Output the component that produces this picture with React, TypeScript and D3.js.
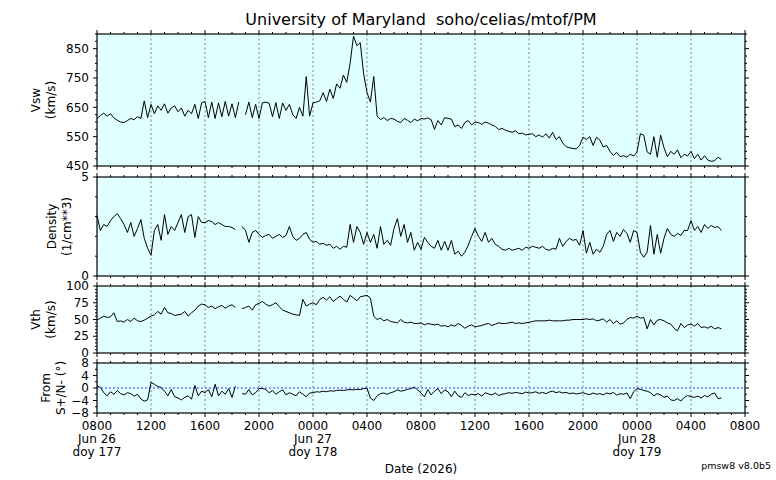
import React from "react";
import * as d3 from "d3";

// 15 minute samples starting 0800 UT Jun 26 2026
const vsw = [
  612, 622, 630, 620, 628, 614, 606, 600,
  598, 605, 612, 608, 618, 612, 672, 615,
  660, 628, 655, 640, 662, 630, 648, 655,
  635, 648, 620, 640, 628, 660, 612, 665,
  670, 615, 668, 612, 665, 618, 670, 620,
  662, 615, 668, NaN, 625, 668, 615, 660,
  612, 665, 668, 664, 618, 666, 612, 665,
  640, 660, 625, 612, 650, 620, 755, 620,
  665, 668, 672, 700, 670, 712, 680, 730,
  715, 760, 735, 800, 893, 860, 870, 765,
  700, 668, 755, 620, 608, 615, 605, 612,
  610, 602, 598, 612, 606, 598, 610, 604,
  612, 610, 614, 608, 575, 605, 590, 615,
  612, 610, 584, 590, 578, 598, 605, 590,
  600, 598, 592, 600, 596, 590, 585, 574,
  578, 572, 568, 565, 570, 560, 562, 556,
  558, 560, 550, 556, 548, 560, 545, 565,
  540, 550, 528, 516, 512, 510, 508, 520,
  548, 540, 550, 520, 548, 538, 515, 520,
  500, 486, 496, 482, 485, 480, 490, 484,
  498, 560, 555, 498, 490, 550, 480, 555,
  512, 482, 500, 490, 505, 478, 490, 484,
  500, 475, 490, 470, 485, 470, 466, 468,
  480, 472,
];

const density = [
  3.05, 2.3, 2.6, 2.5, 2.8, 3.0, 3.15, 2.9,
  2.6, 2.2, 2.7, 2.0, 2.4, 2.85, 1.9, 1.4,
  1.05, 2.3, 2.6, 1.8, 3.1, 2.1, 2.5, 2.3,
  2.7, 3.1, 2.2, 3.0, 3.1, 1.95, 3.0, 2.7,
  2.7, 2.8, 2.75, 2.6, 2.7, 2.6, 2.5, 2.5,
  2.45, 2.35, NaN, 2.5, 2.3, 1.7, 2.2, 2.3,
  2.1, 1.95, 2.05, 2.1, 1.9, 2.0, 2.1, 1.95,
  2.05, 2.5, 2.0, 1.8, 1.9, 2.1, 2.2, 1.85,
  1.7, 1.75, 1.6, 1.65, 1.55, 1.6, 1.4, 1.5,
  1.35, 1.5, 1.45, 2.6, 1.7, 2.5, 2.2, 1.6,
  2.2, 1.7, 2.1, 1.4, 2.5, 1.6, 1.8, 1.55,
  2.4, 2.9, 2.0, 2.6, 1.7, 2.2, 1.3, 1.7,
  1.35, 1.95, 1.7, 1.5, 1.4, 1.8, 1.3, 1.75,
  1.3, 1.8, 1.1, 1.25, 1.0, 1.2, 1.55, 2.0,
  2.4, 2.0, 1.75, 2.2, 1.7, 1.9, 1.6, 1.5,
  1.35, 1.3, 1.4, 1.3, 1.35, 1.4, 1.3, 1.45,
  1.4, 1.5, 1.45, 1.4, 1.5, 1.35, 1.3, 1.4,
  1.35, 1.9, 1.5, 1.75, 1.9, 1.8, 1.85, 1.55,
  2.3, 1.15, 1.7, 1.1, 1.35, 1.2, 1.5, 2.1,
  2.3, 1.75, 2.2, 2.0, 2.35, 2.15, 1.7, 2.3,
  2.2, 1.2, 0.95, 1.2, 2.55, 1.1, 2.1, 1.15,
  1.9, 2.4, 2.1, 2.0, 2.15, 2.05, 2.3, 2.3,
  2.8, 2.3, 2.5, 2.2, 2.6, 2.4, 2.55, 2.45,
  2.5, 2.3,
];

const vth = [
  49, 52, 55, 53, 54, 60, 47, 48,
  46, 50, 47, 52, 48, 47, 49, 52,
  55, 57, 62, 58, 68, 60, 59, 56,
  57, 58, 62, 55, 60, 64, 70, 73,
  72, 68, 70, 66, 69, 71, 67, 70,
  72, 68, NaN, 66, 68, 70, 64, 72,
  74, 77, 73, 70, 72, 75, 69, 64,
  62, 60, 58, 57, 56, 80, 70, 73,
  75, 72, 80, 83, 79, 84, 77, 81,
  85, 80, 76, 86, 82, 78, 84, 85,
  86, 82, 55, 50, 52, 48, 50, 47,
  46, 45, 50, 46, 45, 46, 44, 44,
  45, 42, 44, 43, 42, 43, 40, 41,
  39, 42, 40, 44, 41, 37, 40, 42,
  39, 40, 41, 43, 44, 41, 43, 45,
  44, 44, 45, 46, 44, 45, 44, 45,
  46, 47, 48, 48, 48, 48, 49, 48,
  48, 48, 48, 49, 49, 50, 50, 50,
  50, 51, 50, 51, 48, 49, 51, 46,
  50, 44, 48, 43, 45, 50, 53, 52,
  55, 52, 53, 36, 50, 42, 49, 50,
  48, 45, 43, 37, 33, 44, 38, 42,
  43, 40, 44, 38, 39, 37, 40, 36,
  38, 36,
];

const fromSN = [
  0.8, 0.2, -1.5, -2.5, -1.2, -2.0, -0.8, -1.8,
  -2.2, -1.5, -1.8, -2.6, -2.0, -3.5, -4.2, -3.8,
  1.8, 1.2, 0.5, 0.2, -1.0, -2.5, -0.5, -2.8,
  -3.2, -3.8, -3.0, -2.5, -3.6, 0.8, -2.5, -1.0,
  -1.5, -0.5, -2.8, 1.2, -2.5, -1.0, -2.0, -0.2,
  -3.0, 0.6, NaN, -1.8, -2.0, -0.5, -2.2, -1.5,
  -0.2, -0.1, -0.5, -1.5, -0.8, -2.0, -1.2, -0.6,
  -2.2, -1.5, -2.0, -2.5, -1.2, -2.0, -2.8, -1.6,
  -1.5, -1.2, -1.3, -1.0, -1.2, -0.9, -1.0, -0.8,
  -0.7, -0.8, -0.6, -0.5, -0.6, -0.4, -0.5, -0.2,
  0.0, -3.2, -4.0, -2.5, -1.8, -1.6, -2.0, -1.5,
  -1.2, -0.6, -1.0, -0.8, -0.4, -0.2, 0.3, -0.6,
  -1.6, -2.8, -0.5, -2.2, -1.0, -0.2, -1.8, -0.6,
  -1.2, -2.8, -1.0, -2.5, -3.0, -1.5, -2.4, -2.0,
  -2.2, -1.8, -2.6, -1.5, -1.9, -2.2, -1.6, -2.4,
  -2.0, -1.8, -1.5, -1.7, -1.4, -1.6, -1.8, -1.3,
  -1.6, -1.5, -1.2, -1.7, -1.4, -1.8, -1.3, -1.0,
  -1.5, -1.2, -1.6, -1.4, -1.8, -1.6, -1.9, -1.7,
  -1.5, -1.9, -2.1, -1.6, -2.0, -1.8, -2.2, -1.6,
  -1.9, -1.4, -2.3, -1.8, -2.0, -1.6, -3.4, -1.2,
  -0.2, -0.4, -0.8, -1.0, -1.5, -2.5, -1.8, -2.2,
  -3.0, -2.6, -3.8, -4.0, -3.4, -4.2, -3.0, -2.4,
  -2.8, -3.0, -2.6, -3.2, -2.4, -2.8, -2.0, -1.6,
  -3.4, -3.2,
];

const START = Date.UTC(2026, 5, 26, 8);
const END = Date.UTC(2026, 5, 28, 8);
const STEP_MS = 15 * 60 * 1000;

const dayMarks = [
  { t: Date.UTC(2026, 5, 26, 8), day: "Jun 26", doy: "doy 177" },
  { t: Date.UTC(2026, 5, 27, 0), day: "Jun 27", doy: "doy 178" },
  { t: Date.UTC(2026, 5, 28, 0), day: "Jun 28", doy: "doy 179" },
];

const W = 776;
const H = 480;
const LEFT = 97;
const RIGHT = 745;
const FONT = "DejaVu Sans, Verdana, sans-serif";

const panels = [
  { title: ["Vsw", "(km/s)"], data: vsw, domain: [450, 900], top: 34, bottom: 166,
    labels: [450, 550, 650, 750, 850], minor: 25, labelX: [36, 51], zeroLine: false },
  { title: ["Density", "(1/cm**3)"], data: density, domain: [0, 5], top: 177, bottom: 276,
    labels: [0, 5], minor: 1, labelX: [52, 67], zeroLine: false },
  { title: ["Vth", "(km/s)"], data: vth, domain: [0, 100], top: 286, bottom: 353,
    labels: [0, 25, 50, 75, 100], minor: 5, labelX: [36, 51], zeroLine: false },
  { title: ["From", "S+/N- (\u00b0)"], data: fromSN, domain: [-8, 8], top: 363, bottom: 413,
    labels: [-8, -4, 0, 4, 8], minor: 2, labelX: [46, 61], zeroLine: true },
];

const x = d3.scaleUtc().domain([START, END]).range([LEFT, RIGHT]);
const majorTicks = x.ticks(d3.utcHour.every(4));
const minorTicks = x.ticks(d3.utcHour.every(1));
const fmt = d3.utcFormat("%H%M");

function Panel({ p }) {
  const y = d3.scaleLinear().domain(p.domain).range([p.bottom, p.top]);
  const pts = p.data.map((v, i) => ({ t: START + i * STEP_MS, v }));
  const line = d3.line()
    .defined((d) => !isNaN(d.v))
    .x((d) => x(d.t))
    .y((d) => y(d.v));
  const minorY = d3.range(p.domain[0], p.domain[1] + 0.001, p.minor);
  const num = (v) => (v < 0 ? "\u2212" + Math.abs(v) : String(v));
  const mid = (p.top + p.bottom) / 2;
  return (
    <g>
      <rect x={LEFT} y={p.top} width={RIGHT - LEFT} height={p.bottom - p.top} fill="#e0ffff" />
      {majorTicks.slice(1, -1).map((t, i) => (
        <line key={i} x1={x(t)} x2={x(t)} y1={p.top} y2={p.bottom}
          stroke="#808080" strokeWidth={1} strokeDasharray="2,2.5" />
      ))}
      {p.zeroLine && (
        <line x1={LEFT} x2={RIGHT} y1={y(0)} y2={y(0)} stroke="#3a3aff" strokeWidth={1} strokeDasharray="2,2" />
      )}
      <path d={line(pts)} fill="none" stroke="#000" strokeWidth={1} strokeLinejoin="round" />
      <rect x={LEFT} y={p.top} width={RIGHT - LEFT} height={p.bottom - p.top} fill="none" stroke="#000" strokeWidth={1.2} />
      {minorTicks.map((t, i) => {
        const len = majorTicks.some((m) => +m === +t) ? 4 : 2;
        return (
          <g key={i} stroke="#000" strokeWidth={1}>
            <line x1={x(t)} x2={x(t)} y1={p.top} y2={p.top - len} />
            <line x1={x(t)} x2={x(t)} y1={p.bottom} y2={p.bottom + len} />
          </g>
        );
      })}
      {minorY.map((v, i) => {
        const len = p.labels.includes(v) ? 4 : 2;
        return (
          <g key={i} stroke="#000" strokeWidth={1}>
            <line x1={LEFT} x2={LEFT - len} y1={y(v)} y2={y(v)} />
            <line x1={RIGHT} x2={RIGHT + len} y1={y(v)} y2={y(v)} />
          </g>
        );
      })}
      {p.labels.map((v) => (
        <text key={v} x={LEFT - 8} y={y(v)} dy="0.35em" textAnchor="end" fontSize={12}>{num(v)}</text>
      ))}
      {p.title.map((s, i) => (
        <text key={i} transform={`translate(${p.labelX[i]},${mid}) rotate(-90)`} dy="0.35em"
          textAnchor="middle" fontSize={12}>{s}</text>
      ))}
    </g>
  );
}

export default function App() {
  const last = panels[panels.length - 1];
  return (
    <svg width={W} height={H} style={{ position: "absolute", left: 0, top: 0, background: "#fff" }}
      fontFamily={FONT}>
      <text x={(LEFT + RIGHT) / 2} y={25} textAnchor="middle" fontSize={16}>
        {"University of Maryland\u00a0 soho/celias/mtof/PM"}
      </text>
      {panels.map((p, i) => <Panel key={i} p={p} />)}
      {majorTicks.map((t, i) => (
        <text key={i} x={x(t)} y={last.bottom + 17} textAnchor="middle" fontSize={12}>{fmt(t)}</text>
      ))}
      {dayMarks.map((d, i) => (
        <g key={i}>
          <text x={x(d.t)} y={last.bottom + 30} textAnchor="middle" fontSize={12}>{d.day}</text>
          <text x={x(d.t)} y={last.bottom + 43} textAnchor="middle" fontSize={12}>{d.doy}</text>
        </g>
      ))}
      <text x={(LEFT + RIGHT) / 2} y={473} textAnchor="middle" fontSize={12}>Date (2026)</text>
      <text x={771} y={469} textAnchor="end" fontSize={9.5}>pmsw8 v8.0b5</text>
    </svg>
  );
}
